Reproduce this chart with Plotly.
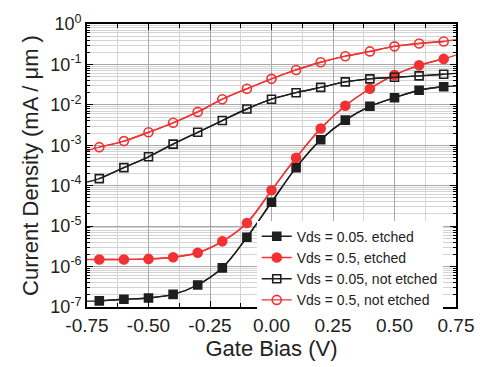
import plotly.graph_objects as go

# Data
gate_bias = [-0.7, -0.6, -0.5, -0.4, -0.3, -0.2, -0.1, 0.0, 0.1, 0.2, 0.3, 0.4, 0.5, 0.6, 0.7]

vds005_etched = [1.42e-7, 1.55e-7, 1.67e-7, 2.05e-7, 3.5e-7, 9.3e-7, 5.3e-6, 3.9e-5,
                 2.8e-4, 1.37e-3, 4.2e-3, 9.2e-3, 1.5e-2, 2.3e-2, 2.8e-2]
vds05_etched = [1.5e-6, 1.5e-6, 1.55e-6, 1.7e-6, 2.2e-6, 4.2e-6, 1.2e-5, 7.7e-5,
                4.9e-4, 2.6e-3, 9.5e-3, 2.5e-2, 5.5e-2, 9.5e-2, 0.137]
vds005_not = [1.5e-4, 2.8e-4, 5.2e-4, 1.07e-3, 2.1e-3, 4.1e-3, 7.9e-3, 1.38e-2,
              2.0e-2, 2.7e-2, 3.7e-2, 4.4e-2, 4.8e-2, 5.2e-2, 5.7e-2]
vds05_not = [9.0e-4, 1.27e-3, 2.1e-3, 3.6e-3, 6.7e-3, 1.38e-2, 2.5e-2, 4.4e-2,
             7.3e-2, 0.113, 0.16, 0.21, 0.28, 0.33, 0.37]

# curve values at the plot edges
edge_x = [-0.75, 0.75]
edge_005_etched = [1.4e-7, 2.9e-2]
edge_05_etched = [1.5e-6, 0.17]
edge_005_not = [1.23e-4, 6.0e-2]
edge_05_not = [7.3e-4, 0.41]

names = ["Vds = 0.05. etched", "Vds = 0.5, etched", "Vds = 0.05, not etched", "Vds = 0.5, not etched"]

x_ticks = [-0.75, -0.5, -0.25, 0.0, 0.25, 0.5, 0.75]
x_ticktext = ["-0.75", "-0.50", "-0.25", "0.00", "0.25", "0.50", "0.75"]
y_exps = [-7, -6, -5, -4, -3, -2, -1, 0]

RED = "#f03232"
BLK = "#1e1e1e"

series = [
    (vds005_etched, edge_005_etched, BLK, "square", 8),
    (vds05_etched, edge_05_etched, RED, "circle", 9),
    (vds005_not, edge_005_not, BLK, "square-open", 8),
    (vds05_not, edge_05_not, RED, "circle-open", 9),
]

fig = go.Figure()
for (ys, edge, col, sym, msz), nm in zip(series, names):
    fig.add_trace(go.Scatter(
        x=[edge_x[0]] + gate_bias + [edge_x[1]],
        y=[edge[0]] + ys + [edge[1]],
        mode="lines", line=dict(color=col, width=1.4, shape="spline"),
        showlegend=False, hoverinfo="skip"))
for (ys, edge, col, sym, msz), nm in zip(series, names):
    fig.add_trace(go.Scatter(
        x=gate_bias, y=ys, name=nm, mode="lines+markers",
        line=dict(color=col, width=1.4, shape="spline"),
        marker=dict(symbol=sym, size=msz, color=col,
                    line=dict(color=col, width=1.6))))

minor_y = [m * 10.0 ** e for e in range(-7, 0) for m in range(2, 10)]

fig.update_layout(
    width=488, height=367,
    margin=dict(l=87, r=32, t=23, b=54),
    paper_bgcolor="white", plot_bgcolor="white",
    font=dict(family="Liberation Sans, Arial, sans-serif", color="#222222"),
    legend=dict(x=0.46, y=0.305, xanchor="left", yanchor="top",
                bgcolor="white", borderwidth=0,
                font=dict(size=14, color="#222222"),
                itemwidth=30, tracegroupgap=0),
    showlegend=True,
)

fig.update_xaxes(
    range=[-0.75, 0.75], tickvals=x_ticks, ticktext=x_ticktext,
    ticks="inside", ticklen=6, tickwidth=1.2, tickcolor="black",
    showline=True, linecolor="black", linewidth=1.6, mirror="allticks",
    showgrid=True, gridcolor="#a8a8a8", gridwidth=1,
    minor=dict(tickvals=[-0.625, -0.375, -0.125, 0.125, 0.375, 0.625],
               ticks="inside", ticklen=4, tickcolor="black",
               showgrid=True, gridcolor="#d4d4d4", gridwidth=1),
    tickfont=dict(size=19, color="#222222"),
    title=dict(text="Gate Bias (V)", font=dict(size=22, color="#222222"), standoff=4),
    zeroline=False,
)

fig.update_yaxes(
    type="log", range=[-7, 0],
    tickvals=[10.0 ** e for e in y_exps],
    ticktext=["10<sup>%d</sup>" % e for e in y_exps],
    ticks="inside", ticklen=6, tickwidth=1.2, tickcolor="black",
    showline=True, linecolor="black", linewidth=1.6, mirror="allticks",
    showgrid=True, gridcolor="#a8a8a8", gridwidth=1,
    minor=dict(tickvals=minor_y, ticks="inside", ticklen=3, tickcolor="black",
               showgrid=True, gridcolor="#d4d4d4", gridwidth=1),
    tickfont=dict(size=18, color="#222222"),
    title=dict(text="Current Density (mA / μm )", font=dict(size=22, color="#222222"), standoff=6),
    zeroline=False,
)

fig.write_html("out.html")
